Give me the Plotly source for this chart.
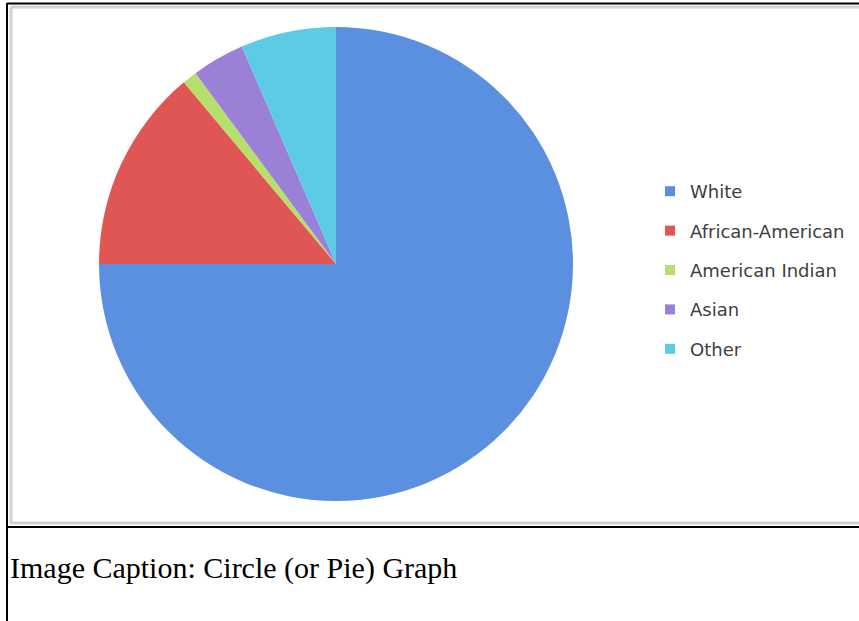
import plotly.graph_objects as go

W, H = 859, 621

labels = ["White", "African-American", "American Indian", "Asian", "Other"]
values = [75.0, 13.9, 1.0, 3.6, 6.5]
colors = ["#5b8fe0", "#e05654", "#b6e06c", "#9b80d8", "#5ccbe6"]
caption = "Image Caption: Circle (or Pie) Graph"


def py(y):
    return 1 - y / H


def px(x):
    return x / W


fig = go.Figure()
fig.add_trace(go.Pie(
    labels=labels,
    values=values,
    sort=False,
    direction="clockwise",
    rotation=0,
    textinfo="none",
    showlegend=False,
    marker=dict(colors=colors, line=dict(width=0)),
    domain=dict(x=[px(99), px(573)], y=[py(501), py(27)]),
))

# legend entries (one per category, so the gap between entries can be set)
for lab, col in zip(labels, colors):
    fig.add_trace(go.Scatter(
        x=[None], y=[None], mode="markers", name=lab, legendgroup=lab,
        marker=dict(symbol="square", size=10, color=col),
        showlegend=True,
    ))


def hline(x0, x1, y, color, width):
    return dict(type="line", xref="paper", yref="paper",
                x0=px(x0), x1=px(x1), y0=py(y), y1=py(y),
                line=dict(color=color, width=width))


def vline(x, y0, y1, color, width):
    return dict(type="line", xref="paper", yref="paper",
                x0=px(x), x1=px(x), y0=py(y0), y1=py(y1),
                line=dict(color=color, width=width))


shapes = [
    hline(7, W, 3.5, "black", 2),
    vline(7, 3, H, "black", 2),
    hline(7, W, 527, "black", 2),
    hline(11, W, 7, "#d2d2d2", 3),
    vline(11, 7, 524, "#d2d2d2", 3),
    hline(11, W, 523, "#d2d2d2", 3),
]

fig.update_layout(
    width=W, height=H,
    margin=dict(l=0, r=0, t=0, b=0),
    paper_bgcolor="white",
    plot_bgcolor="white",
    xaxis=dict(visible=False, range=[0, 1]),
    yaxis=dict(visible=False, range=[0, 1]),
    shapes=shapes,
    showlegend=True,
    legend=dict(
        x=px(650), y=py(173), xanchor="left", yanchor="top",
        font=dict(family="DejaVu Sans", size=18, color="#404040"),
        bgcolor="rgba(0,0,0,0)",
        tracegroupgap=13,
        itemclick=False, itemdoubleclick=False,
    ),
    annotations=[dict(
        text=caption, x=px(8), y=py(568), xref="paper", yref="paper",
        xanchor="left", yanchor="middle", showarrow=False,
        font=dict(family="Liberation Serif", size=30, color="black"),
    )],
)

fig.write_html(
    "out.html",
    config={"displayModeBar": False},
    post_script="document.body.style.margin='0';document.body.style.overflow='hidden';",
)
